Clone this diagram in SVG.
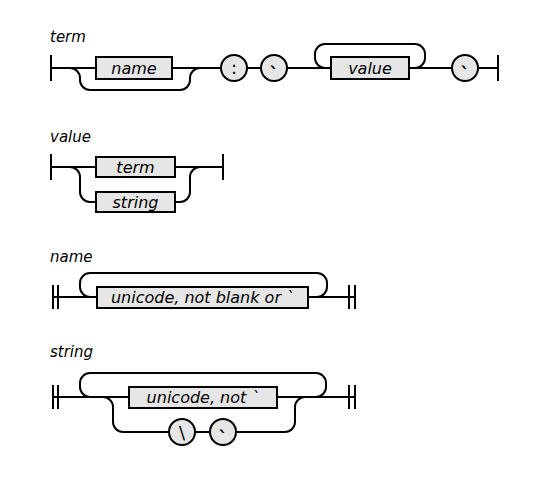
<svg xmlns="http://www.w3.org/2000/svg" width="550" height="480" viewBox="0 0 550 480">
<style>
.ln{fill:none;stroke:#000;stroke-width:2}
.box{fill:#e6e6e6;stroke:#000;stroke-width:2}
.title{font-family:"DejaVu Sans",Verdana,sans-serif;font-style:italic;font-size:15px;fill:#000}
.lbl{font-family:"DejaVu Sans",Verdana,sans-serif;font-style:italic;font-size:16px;fill:#000;text-anchor:middle}
.sym{font-family:"DejaVu Sans",Verdana,sans-serif;font-size:18px;fill:#000;text-anchor:middle}
</style>
<rect width="550" height="480" fill="#fff"/>
<text class="title" x="50" y="42">term</text>
<text class="title" x="50" y="142">value</text>
<text class="title" x="50" y="262">name</text>
<text class="title" x="50" y="357">string</text>
<g id="connectors">
<path class="ln" d="M51,55V81M51,68H96M172,68H221M247,68H261M287,68H331M409,68H452M478,68H498M498,55V81"/>
<path class="ln" d="M70,68a10,10 0 0 1 10,10v2a10,10 0 0 0 10,10h90a10,10 0 0 0 10,-10v-2a10,10 0 0 1 10,-10"/>
<path class="ln" d="M415,68a10,10 0 0 0 10,-10v-4a10,10 0 0 0 -10,-10h-90a10,10 0 0 0 -10,10v4a10,10 0 0 0 10,10"/>
<path class="ln" d="M51,154V180M51,167H96M175,167H223M223,154V180"/>
<path class="ln" d="M70,167a10,10 0 0 1 10,10v15a10,10 0 0 0 10,10h6M175,202h5a10,10 0 0 0 10,-10v-15a10,10 0 0 1 10,-10"/>
<path class="ln" d="M53,285V309M58,285V309M53,297H97M308,297H355M349,285V309M355,285V309"/>
<path class="ln" d="M317,297a10,10 0 0 0 10,-10v-4a10,10 0 0 0 -10,-10h-227a10,10 0 0 0 -10,10v4a10,10 0 0 0 10,10"/>
<path class="ln" d="M53,385V409M58,385V409M53,397H129M277,397H355M349,385V409M355,385V409"/>
<path class="ln" d="M316,397a10,10 0 0 0 10,-10v-4a10,10 0 0 0 -10,-10h-226a10,10 0 0 0 -10,10v4a10,10 0 0 0 10,10"/>
<path class="ln" d="M103,397a10,10 0 0 1 10,10v15a10,10 0 0 0 10,10h46M195,432h15M236,432h49a10,10 0 0 0 10,-10v-15a10,10 0 0 1 10,-10"/>
</g>
<g id="term-name"><rect class="box" x="96" y="57" width="76" height="22"/><text class="lbl" x="134" y="74">name</text></g>
<g id="term-colon"><circle class="box" cx="234" cy="68" r="13"/><text class="sym" x="234" y="74">:</text></g>
<g id="term-tick1"><circle class="box" cx="274" cy="68" r="13"/><text class="sym" x="274" y="80" font-weight="bold">`</text></g>
<g id="term-value"><rect class="box" x="331" y="57" width="78" height="22"/><text class="lbl" x="370" y="74">value</text></g>
<g id="term-tick2"><circle class="box" cx="465" cy="68" r="13"/><text class="sym" x="465" y="80" font-weight="bold">`</text></g>
<g id="value-term"><rect class="box" x="96" y="157" width="79" height="20"/><text class="lbl" x="135.5" y="173">term</text></g>
<g id="value-string"><rect class="box" x="96" y="192" width="79" height="20"/><text class="lbl" x="135.5" y="207.5">string</text></g>
<g id="name-unicode"><rect class="box" x="97" y="287" width="211" height="21"/><text class="lbl" x="202.5" y="303">unicode, not blank or `</text></g>
<g id="string-unicode"><rect class="box" x="129" y="387" width="148" height="21"/><text class="lbl" x="203" y="403">unicode, not `</text></g>
<g id="string-backslash"><circle class="box" cx="182" cy="432" r="13"/><text class="sym" x="182" y="439">\</text></g>
<g id="string-tick"><circle class="box" cx="223" cy="432" r="13"/><text class="sym" x="223" y="444" font-weight="bold">`</text></g>
</svg>
